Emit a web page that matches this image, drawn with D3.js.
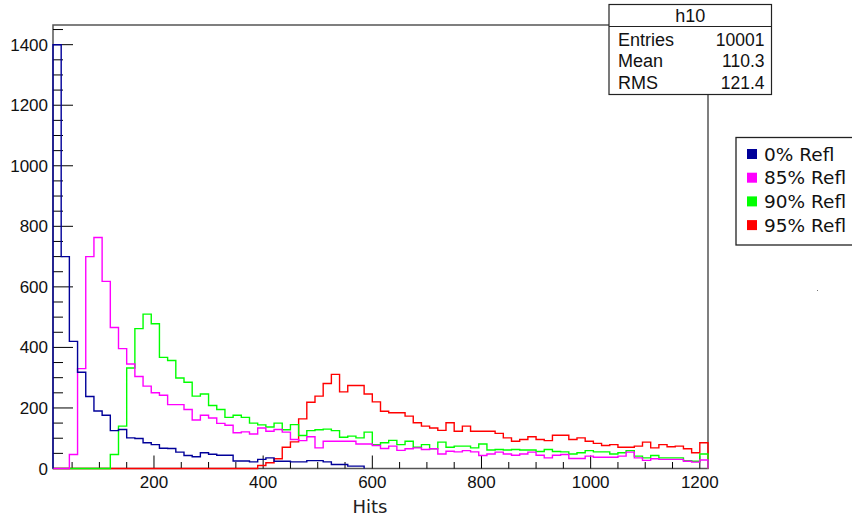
<!DOCTYPE html>
<html>
<head>
<meta charset="utf-8">
<script src="https://cdn.jsdelivr.net/npm/d3@7"></script>
<style>
  html, body { margin: 0; padding: 0; background: #fff; }
  svg { display: block; }
</style>
</head>
<body>
<svg id="chart" width="852" height="517"></svg>
<script>
// ---------------- data ----------------
const binStart = 15;
const binWidth = 15;
const xDomain = [15, 1215];
const yDomain = [0, 1465];

const seriesNames = ["0% Refl", "85% Refl", "90% Refl", "95% Refl"];
const seriesColors = ["#000099", "#ff00ff", "#00ff00", "#ff0000"];

const refl0 = [1400, 700, 420, 318, 238, 190, 176, 125, 129, 101,
  99, 85, 79, 67, 66, 54, 43, 39, 52, 47,
  44, 44, 25, 25, 22, 30, 35, 24, 24, 22,
  22, 26, 26, 22, 13, 13, 8, 8, 0, 0,
  0, 0, 0, 0, 0, 0, 0, 0, 0, 0,
  0, 0, 0, 0, 0, 0, 0, 0, 0, 0,
  0, 0, 0, 0, 0, 0, 0, 0, 0, 0,
  0, 0, 0, 0, 0, 0, 0, 0, 0, 0];

const refl85 = [0, 0, 46, 330, 700, 763, 618, 466, 396, 345,
  304, 272, 250, 242, 211, 211, 195, 160, 176, 167,
  149, 143, 118, 121, 114, 134, 123, 129, 120, 96,
  92, 105, 68, 90, 90, 90, 90, 81, 81, 76,
  66, 74, 60, 65, 68, 63, 65, 48, 57, 55,
  59, 55, 43, 48, 54, 48, 44, 48, 54, 44,
  35, 44, 46, 33, 33, 41, 37, 37, 37, 41,
  54, 35, 27, 32, 30, 30, 30, 24, 21, 28];

const refl90 = [0, 0, 0, 0, 0, 0, 0, 46, 140, 332,
  462, 510, 478, 367, 357, 299, 285, 239, 246, 208,
  195, 169, 176, 169, 150, 144, 137, 150, 128, 145,
  109, 125, 128, 130, 125, 103, 107, 101, 120, 79,
  85, 93, 79, 90, 70, 79, 65, 87, 70, 74,
  74, 68, 81, 61, 63, 61, 63, 61, 61, 56,
  63, 56, 55, 48, 52, 59, 55, 55, 48, 52,
  59, 41, 35, 43, 35, 35, 35, 26, 24, 48];

const refl95 = [0, 0, 0, 0, 0, 0, 0, 0, 0, 0,
  0, 0, 0, 0, 0, 0, 0, 0, 0, 0,
  0, 0, 0, 0, 0, 10, 19, 32, 70, 88,
  164, 219, 239, 281, 311, 253, 274, 274, 246, 220,
  189, 184, 184, 173, 151, 140, 134, 126, 151, 123,
  140, 123, 123, 123, 116, 101, 90, 96, 105, 96,
  92, 110, 110, 96, 101, 90, 83, 76, 79, 70,
  70, 74, 87, 68, 79, 72, 74, 65, 52, 85];

const seriesValues = [refl0, refl85, refl90, refl95];

const xMajorTicks = [200, 400, 600, 800, 1000, 1200];
const xMinorStep = 50;
const yMajorTicks = [0, 200, 400, 600, 800, 1000, 1200, 1400];
const yMinorStep = 50;

const statsTitle = "h10";
const statsLabels = ["Entries", "Mean", "RMS"];
const statsValues = ["10001", "110.3", "121.4"];
const axisTitle = "Hits";

// ---------------- layout ----------------
const svg = d3.select("#chart");
const plot = { left: 53, right: 708, top: 25, bottom: 468.5 };

const x = d3.scaleLinear().domain(xDomain).range([plot.left, plot.right]);
const y = d3.scaleLinear().domain(yDomain).range([plot.bottom, plot.top]);

const tickFont = "'Liberation Sans', Arial, sans-serif";
const dejaFont = "'DejaVu Sans', sans-serif";

// frame
svg.append("rect")
  .attr("x", plot.left).attr("y", plot.top)
  .attr("width", plot.right - plot.left).attr("height", plot.bottom - plot.top)
  .attr("fill", "none").attr("stroke", "#555").attr("stroke-width", 1.5);

// x ticks
const xMinor = d3.range(xMinorStep, xDomain[1] + 1e-9, xMinorStep)
  .filter(v => v >= xDomain[0] && v <= xDomain[1] && !xMajorTicks.includes(v));
svg.append("g").selectAll("line").data(xMinor).join("line")
  .attr("x1", d => x(d)).attr("x2", d => x(d))
  .attr("y1", plot.bottom).attr("y2", plot.bottom - 6.5)
  .attr("stroke", "#000").attr("stroke-width", 1);
svg.append("g").selectAll("line").data(xMajorTicks).join("line")
  .attr("x1", d => x(d)).attr("x2", d => x(d))
  .attr("y1", plot.bottom).attr("y2", plot.bottom - 13)
  .attr("stroke", "#000").attr("stroke-width", 1);
svg.append("g").selectAll("text").data(xMajorTicks).join("text")
  .attr("x", d => x(d)).attr("y", 488)
  .attr("text-anchor", "middle")
  .attr("font-family", tickFont).attr("font-size", 17)
  .attr("fill", "#111")
  .text(d => d);

// y ticks
const yMinor = d3.range(0, yDomain[1] + 1e-9, yMinorStep)
  .filter(v => !yMajorTicks.includes(v));
svg.append("g").selectAll("line").data(yMinor).join("line")
  .attr("x1", plot.left).attr("x2", plot.left + 10)
  .attr("y1", d => y(d)).attr("y2", d => y(d))
  .attr("stroke", "#000").attr("stroke-width", 1);
svg.append("g").selectAll("line").data(yMajorTicks).join("line")
  .attr("x1", plot.left).attr("x2", plot.left + 20)
  .attr("y1", d => y(d)).attr("y2", d => y(d))
  .attr("stroke", "#000").attr("stroke-width", 1);
svg.append("g").selectAll("text").data(yMajorTicks).join("text")
  .attr("x", 48).attr("y", d => y(d) + 6)
  .attr("text-anchor", "end")
  .attr("font-family", tickFont).attr("font-size", 17)
  .attr("fill", "#111")
  .text(d => d);

// axis title
svg.append("text")
  .attr("x", 370).attr("y", 513)
  .attr("text-anchor", "middle")
  .attr("font-family", dejaFont).attr("font-size", 18)
  .attr("fill", "#222")
  .text(axisTitle);

// histograms (drawn red, green, magenta, blue)
function stepPoints(vals) {
  let last = vals.length - 1;
  while (last > 0 && vals[last] === 0) last--;
  const pts = [[binStart, 0]];
  for (let i = 0; i <= last; i++) {
    const lo = binStart + i * binWidth;
    pts.push([lo, vals[i]]);
    pts.push([lo + binWidth, vals[i]]);
  }
  pts.push([binStart + (last + 1) * binWidth, 0]);
  return pts;
}
const line = d3.line().x(d => x(d[0])).y(d => y(d[1]));
const order = [3, 2, 1, 0];
svg.append("g").selectAll("path").data(order).join("path")
  .attr("d", i => line(stepPoints(seriesValues[i])))
  .attr("fill", "none")
  .attr("stroke", i => seriesColors[i])
  .attr("stroke-width", 1.4)
  .attr("stroke-linejoin", "miter");

// stats box
const sb = { x: 609, y: 4.5, w: 162.5, h: 90, sep: 26.5 };
svg.append("rect").attr("x", sb.x).attr("y", sb.y).attr("width", sb.w).attr("height", sb.h)
  .attr("fill", "#fff").attr("stroke", "#222").attr("stroke-width", 1.2);
svg.append("line").attr("x1", sb.x).attr("x2", sb.x + sb.w)
  .attr("y1", sb.sep).attr("y2", sb.sep)
  .attr("stroke", "#222").attr("stroke-width", 1.2);
svg.append("text").attr("x", sb.x + sb.w / 2).attr("y", 22)
  .attr("text-anchor", "middle").attr("font-family", tickFont).attr("font-size", 18)
  .attr("fill", "#111").text(statsTitle);
const rowY = [45.5, 67, 88.5];
svg.append("g").selectAll("text").data(statsLabels).join("text")
  .attr("x", 618).attr("y", (d, i) => rowY[i])
  .attr("font-family", tickFont).attr("font-size", 18).attr("fill", "#111")
  .text(d => d);
svg.append("g").selectAll("text").data(statsValues).join("text")
  .attr("x", 764.5).attr("y", (d, i) => rowY[i])
  .attr("text-anchor", "end")
  .attr("font-family", tickFont).attr("font-size", 17.5).attr("fill", "#111")
  .text(d => d);

// legend
const lg = { x: 736, y: 137.5, w: 130, h: 107.5 };
svg.append("rect").attr("x", lg.x).attr("y", lg.y).attr("width", lg.w).attr("height", lg.h)
  .attr("fill", "#fff").attr("stroke", "#222").attr("stroke-width", 1.3);
const rows = svg.append("g").selectAll("g").data(seriesNames).join("g")
  .attr("transform", (d, i) => `translate(0, ${154 + i * 23.7})`);
rows.append("rect").attr("x", 747).attr("y", -5).attr("width", 10).attr("height", 10)
  .attr("fill", (d, i) => seriesColors[i]);
rows.append("text").attr("x", 764).attr("y", 0).attr("dy", "0.36em")
  .attr("font-family", dejaFont).attr("font-size", 18.5).attr("fill", "#111")
  .text(d => d);

// stray dot present in the original picture
svg.append("rect").attr("x", 817).attr("y", 290).attr("width", 1).attr("height", 1).attr("fill", "#777");
</script>
</body>
</html>
